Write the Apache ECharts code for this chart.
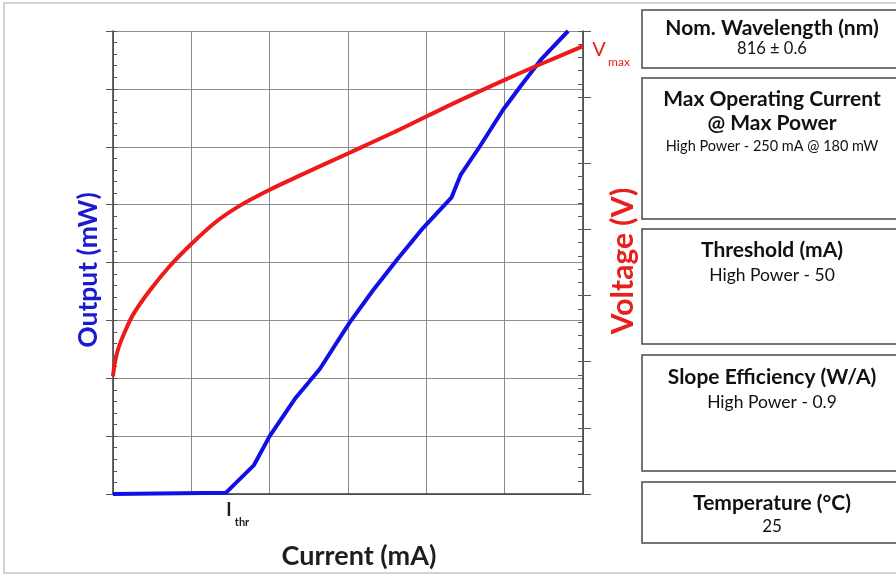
<!DOCTYPE html>
<html>
<head>
<meta charset="utf-8">
<script src="https://cdn.jsdelivr.net/npm/echarts@6/dist/echarts.min.js"></script>
<style>
  html, body { margin: 0; padding: 0; background: #fff; }
  #container { width: 896px; height: 576px; }
</style>
</head>
<body>
<div id="container"></div>
<script>
// output curve (blue): current in mA, optical output in mW
var outCurrent = [0, 72, 90, 100, 116, 132, 151, 166, 181, 198, 216, 222, 234, 249, 260, 273, 290.5];
var outPower = [0, 0.5, 12.5, 25, 41, 54, 74, 88, 101, 115, 128, 138, 150, 166, 176, 187.5, 200];

// voltage curve (red): current in mA, voltage in V
var vCurrent = [0, 1, 3.4, 7.7, 13, 23.6, 36, 50, 66, 81, 100, 117, 151, 183, 215, 249, 275, 300];
var vVolt = [0.89, 0.98, 1.1, 1.23, 1.36, 1.54, 1.72, 1.89, 2.06, 2.18, 2.3, 2.395, 2.58, 2.755, 2.94, 3.125, 3.26, 3.385];

// spec boxes on the right
var specTitles = [["Nom. Wavelength (nm)"], ["Max Operating Current", "@ Max Power"], ["Threshold (mA)"], ["Slope Efficiency (W/A)"], ["Temperature (°C)"]];
var specValues = ["816 ± 0.6", "High Power - 250 mA @ 180 mW", "High Power - 50", "High Power - 0.9", "25"];

function pairs(xs, ys) {
  var res = [];
  for (var i = 0; i < xs.length; i++) res.push([xs[i], ys[i]]);
  return res;
}

var FONT = "Lato, 'Open Sans', sans-serif";
var boxTop = [10, 78, 229, 355, 482];
var boxBottom = [68, 219, 344, 471, 543];
var titleY = [[28], [99, 123], [250], [377], [503]];
var valueY = [48.5, 146, 275, 402, 527];
var valueSize = [16.5, 14.5, 17.5, 17.5, 17];

var graphics = [
  { type: "rect", shape: { x: 4, y: 3, width: 1000, height: 570 }, style: { fill: "none", stroke: "#c4c4c4", lineWidth: 1.5 }, silent: true },
  { type: "text", x: 88, y: 270, rotation: Math.PI / 2,
    style: { text: "Output (mW)", fill: "#1a1ad0", font: "bold 26.5px " + FONT, textAlign: "center", textVerticalAlign: "middle" } },
  { type: "text", x: 623, y: 261, rotation: Math.PI / 2,
    style: { text: "Voltage (V)", fill: "#e8201c", font: "bold 30px " + FONT, textAlign: "center", textVerticalAlign: "middle" } },
  { type: "text", x: 359, y: 556,
    style: { text: "Current (mA)", fill: "#1e1e1e", font: "bold 27px " + FONT, textAlign: "center", textVerticalAlign: "middle" } },
  { type: "text", x: 229, y: 510,
    style: { text: "I", fill: "#1e1e1e", font: "bold 18px " + FONT, textAlign: "center", textVerticalAlign: "middle" } },
  { type: "text", x: 242, y: 522,
    style: { text: "thr", fill: "#1e1e1e", font: "bold 11px " + FONT, textAlign: "center", textVerticalAlign: "middle" } },
  { type: "text", x: 599, y: 50,
    style: { text: "V", fill: "#e8201c", font: "20px " + FONT, textAlign: "center", textVerticalAlign: "middle" } },
  { type: "text", x: 619, y: 62,
    style: { text: "max", fill: "#e8201c", font: "12px " + FONT, textAlign: "center", textVerticalAlign: "middle" } }
];

for (var b = 0; b < boxTop.length; b++) {
  graphics.push({ type: "rect", shape: { x: 642, y: boxTop[b], width: 260, height: boxBottom[b] - boxTop[b] },
    style: { fill: "#fff", stroke: "#4a4a4a", lineWidth: 1.5 } });
  for (var t = 0; t < specTitles[b].length; t++) {
    graphics.push({ type: "text", x: 772, y: titleY[b][t],
      style: { text: specTitles[b][t], fill: "#111", font: "bold 21px " + FONT, textAlign: "center", textVerticalAlign: "middle" } });
  }
  graphics.push({ type: "text", x: 772, y: valueY[b],
    style: { text: specValues[b], fill: "#111", font: valueSize[b] + "px " + FONT, textAlign: "center", textVerticalAlign: "middle" } });
}

var axisLineStyle = { color: "#3a3a3a", width: 1.5 };
var gridLineStyle = { color: "#8c8c8c", width: 1 };

var option = {
  animation: false,
  backgroundColor: "#fff",
  grid: { left: 113, right: 313, top: 31, bottom: 82 },
  xAxis: {
    type: "value", min: 0, max: 300, interval: 50,
    axisLine: { show: true, lineStyle: axisLineStyle },
    axisTick: { show: false },
    axisLabel: { show: false },
    splitLine: { show: true, lineStyle: gridLineStyle }
  },
  yAxis: [
    { // left, major ticks outside
      type: "value", position: "left", min: 0, max: 200, interval: 25,
      axisLine: { show: true, lineStyle: axisLineStyle },
      axisTick: { show: true, length: 7, lineStyle: { color: "#555" } },
      axisLabel: { show: false },
      splitLine: { show: true, lineStyle: gridLineStyle }
    },
    { // left, minor ticks inside
      type: "value", position: "left", min: 0, max: 200, interval: 5,
      axisLine: { show: false },
      axisTick: { show: true, inside: true, length: 4, lineStyle: { color: "#555" } },
      axisLabel: { show: false },
      splitLine: { show: false }
    },
    { // right, major ticks outside
      type: "value", position: "right", min: 0, max: 3.5, interval: 0.5,
      axisLine: { show: true, lineStyle: axisLineStyle },
      axisTick: { show: true, length: 8, lineStyle: { color: "#555" } },
      axisLabel: { show: false },
      splitLine: { show: false }
    },
    { // right, minor ticks inside
      type: "value", position: "right", min: 0, max: 3.5, interval: 0.1,
      axisLine: { show: false },
      axisTick: { show: true, inside: true, length: 5, lineStyle: { color: "#555" } },
      axisLabel: { show: false },
      splitLine: { show: false }
    }
  ],
  series: [
    {
      name: "Output", type: "line", yAxisIndex: 0,
      data: pairs(outCurrent, outPower),
      showSymbol: false, clip: true,
      lineStyle: { color: "#1010e6", width: 4 }
    },
    {
      name: "Voltage", type: "line", yAxisIndex: 2,
      data: pairs(vCurrent, vVolt),
      showSymbol: false, smooth: 0.3, clip: true,
      lineStyle: { color: "#ee1a1a", width: 4 }
    }
  ],
  graphic: graphics
};

var dom = document.querySelector("#container");
var mychart = echarts.init(dom);
mychart.setOption(option);
</script>
</body>
</html>
